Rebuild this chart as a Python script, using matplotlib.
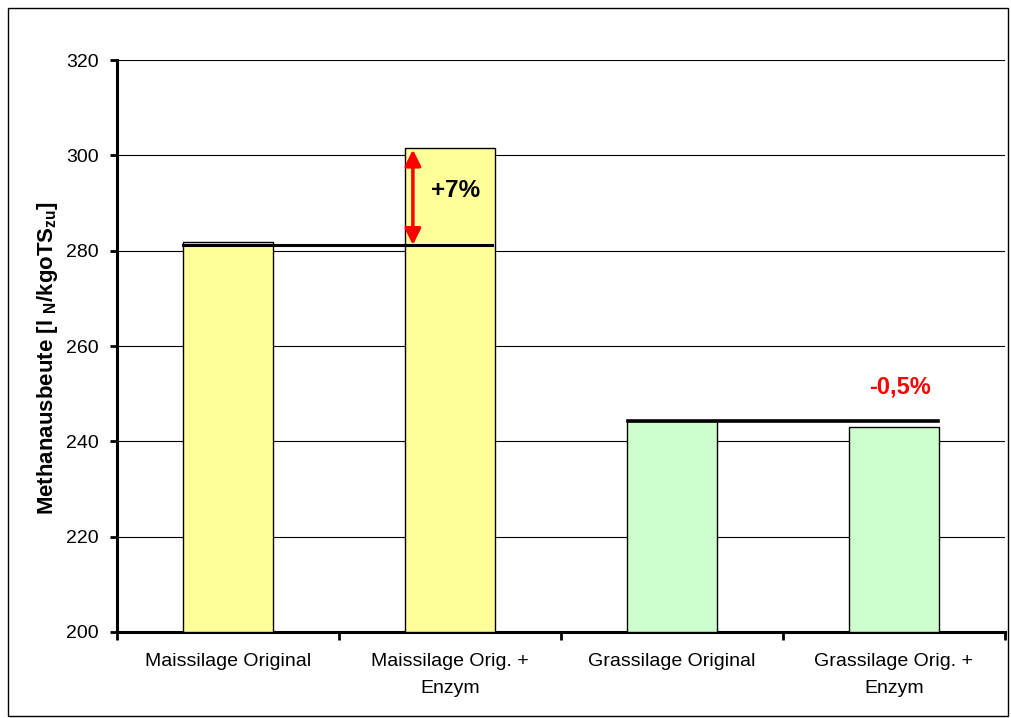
import matplotlib
matplotlib.use("Agg")
import matplotlib.pyplot as plt
from matplotlib.patches import FancyArrowPatch, Rectangle

categories = ["Maissilage Original", "Maissilage Orig. +\nEnzym", "Grassilage Original", "Grassilage Orig. +\nEnzym"]
values = [281.8, 301.5, 244.3, 243.0]
colors = ["#FFFF99", "#FFFF99", "#CCFFCC", "#CCFFCC"]
ref_mais = 281.2
ref_gras = 244.3
yticks = [200, 220, 240, 260, 280, 300, 320]

plt.rcParams['font.family'] = ['Liberation Sans', 'DejaVu Sans']

fig = plt.figure(figsize=(10.11, 7.18), dpi=100)
fig.patches.append(Rectangle((0.008, 0.003), 0.989, 0.986, transform=fig.transFigure,
                             fill=False, edgecolor='black', linewidth=1.0))
ax = fig.add_axes([0.1157, 0.1198, 0.8783, 0.7966])

x = list(range(len(categories)))
ax.bar(x, [v - 200 for v in values], bottom=200, width=0.405, color=colors,
       edgecolor='black', linewidth=1.0, zorder=3)

ax.set_ylim(200, 320)
ax.set_xlim(-0.5, 3.5)
ax.set_yticks(yticks)
ax.set_yticklabels([str(t) for t in yticks], fontsize=14)
ax.yaxis.grid(True, color='black', linewidth=0.8, zorder=0)
ax.set_axisbelow(True)

ax.set_xticks([-0.5, 0.5, 1.5, 2.5, 3.5])
ax.set_xticklabels([])
ax.set_xticks(x, minor=True)
ax.set_xticklabels(categories, minor=True, fontsize=14, linespacing=1.75)
ax.tick_params(axis='x', which='minor', length=0, pad=15)
ax.tick_params(axis='x', which='major', length=6, width=2, direction='out')
ax.tick_params(axis='y', length=5, width=2, direction='out', pad=8)

for s in ['top', 'right']:
    ax.spines[s].set_visible(False)
for s in ['left', 'bottom']:
    ax.spines[s].set_linewidth(2.2)

ax.set_ylabel(r"Methanausbeute [l $_{\mathregular{N}}$/kgoTS$_{\mathregular{zu}}$]",
              fontsize=16, fontweight='bold')
ax.yaxis.set_label_coords(-0.064, 0.479)

# reference lines
ax.plot([-0.2025, 1.19], [ref_mais, ref_mais], color='black', linewidth=2.2, zorder=4)
ax.plot([1.8, 3.2], [ref_gras, ref_gras], color='black', linewidth=2.6, zorder=4)

# arrow
arr = FancyArrowPatch((0.833, ref_mais), (0.833, values[1] - 0.3), arrowstyle='<|-|>',
                      mutation_scale=24, color='red', linewidth=2.5, shrinkA=0, shrinkB=0, zorder=5)
ax.add_patch(arr)
ax.text(1.027, 292.7, "+7%", fontsize=17.5, fontweight='bold', ha='center', va='center', zorder=6)
ax.text(3.027, 251.4, "-0,5%", fontsize=17, fontweight='bold', color='red', ha='center', va='center', zorder=6)

fig.savefig("out.png", dpi=100)
